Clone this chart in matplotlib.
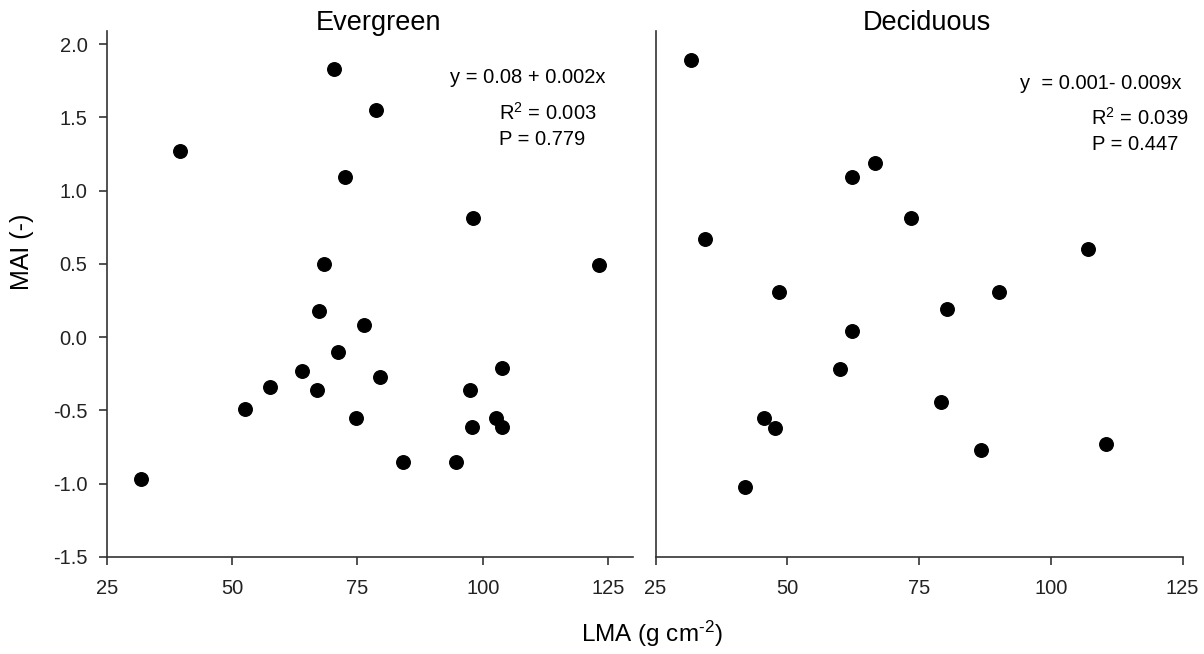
import matplotlib
matplotlib.use("Agg")
from matplotlib import pyplot as plt

plt.rcParams['font.family'] = ['Liberation Sans', 'DejaVu Sans']
plt.rcParams['mathtext.fontset'] = 'custom'
plt.rcParams['mathtext.rm'] = 'Liberation Sans'
plt.rcParams['mathtext.it'] = 'Liberation Sans:italic'

# Evergreen species: LMA (g cm-2) and MAI (-)
ever_lma = [70.3, 78.6, 39.6, 72.5, 68.3, 98.1, 123.2, 67.3, 76.4, 71.2,
            63.9, 57.5, 66.9, 79.4, 52.5, 74.8, 31.7, 84.0, 103.9, 97.5,
            102.6, 103.9, 97.9, 94.7]
ever_mai = [1.83, 1.55, 1.27, 1.09, 0.50, 0.81, 0.49, 0.18, 0.08, -0.10,
            -0.23, -0.34, -0.36, -0.27, -0.49, -0.55, -0.97, -0.85, -0.21, -0.36,
            -0.55, -0.61, -0.61, -0.85]

# Deciduous species
deci_lma = [31.7, 66.6, 62.3, 73.5, 34.3, 48.4, 62.3, 107.0, 90.2, 80.3,
            60.0, 45.6, 47.6, 41.9, 79.2, 86.8, 110.4]
deci_mai = [1.89, 1.19, 1.09, 0.81, 0.67, 0.31, 0.04, 0.60, 0.31, 0.19,
            -0.22, -0.55, -0.62, -1.02, -0.44, -0.77, -0.73]

x_ticks = [25, 50, 75, 100, 125]
y_ticks = [-1.5, -1.0, -0.5, 0.0, 0.5, 1.0, 1.5, 2.0]

W, H = 1204, 654
fig = plt.figure(figsize=(W / 100, H / 100), dpi=100)

ax1 = fig.add_axes([107 / W, 1 - 557 / H, 526 / W, 526 / H])
ax2 = fig.add_axes([655.5 / W, 1 - 557 / H, 527 / W, 526 / H])

spine_col = '#333333'


def style_axes(ax, xmax, show_y):
    ax.set_xlim(25, xmax)
    ax.set_ylim(-1.5, 2.089)
    for s in ['top', 'right']:
        ax.spines[s].set_visible(False)
    for s in ['left', 'bottom']:
        ax.spines[s].set_color(spine_col)
        ax.spines[s].set_linewidth(1.2)
    ax.set_xticks(x_ticks)
    ax.set_xticklabels([str(t) for t in x_ticks])
    ax.tick_params(axis='x', direction='out', length=6, width=1.2,
                   color=spine_col, labelsize=14.5, pad=10, labelcolor='#222222')
    if show_y:
        ax.set_yticks(y_ticks)
        ax.set_yticklabels(['%.1f' % t for t in y_ticks])
        ax.tick_params(axis='y', direction='out', length=6, width=1.2,
                       color=spine_col, labelsize=14.5, pad=8, labelcolor='#222222')
    else:
        ax.set_yticks([])


ax1.scatter(ever_lma, ever_mai, s=95, color='black', zorder=3, clip_on=False)
ax2.scatter(deci_lma, deci_mai, s=95, color='black', zorder=3, clip_on=False)

style_axes(ax1, 130, True)
style_axes(ax2, 125, False)

# Panel titles
fig.text(379 / W, 1 - 30 / H, 'Evergreen', ha='center', va='baseline', fontsize=19.5)
fig.text(927 / W, 1 - 30 / H, 'Deciduous', ha='center', va='baseline', fontsize=19.5)

# Regression stats
fs = 14.5
fig.text(450 / W, 1 - 83 / H, 'y = 0.08 + 0.002x', ha='left', va='baseline', fontsize=fs)
fig.text(499 / W, 1 - 120 / H, 'R$^2$ = 0.003', ha='left', va='baseline', fontsize=fs)
fig.text(499 / W, 1 - 145 / H, 'P = 0.779', ha='left', va='baseline', fontsize=fs)

fig.text(1020 / W, 1 - 89 / H, 'y  = 0.001- 0.009x', ha='left', va='baseline', fontsize=fs)
fig.text(1091 / W, 1 - 125 / H, 'R$^2$ = 0.039', ha='left', va='baseline', fontsize=fs)
fig.text(1092 / W, 1 - 150 / H, 'P = 0.447', ha='left', va='baseline', fontsize=fs)

# Axis labels
fig.text(22 / W, 1 - 252 / H, 'MAI (-)', ha='center', va='center', rotation=90, fontsize=18)
fig.text(652 / W, 1 - 642 / H, r'LMA (g cm$^{\text{-2}}$)', ha='center', va='baseline', fontsize=17.5)

fig.savefig('out.png', dpi=100)
